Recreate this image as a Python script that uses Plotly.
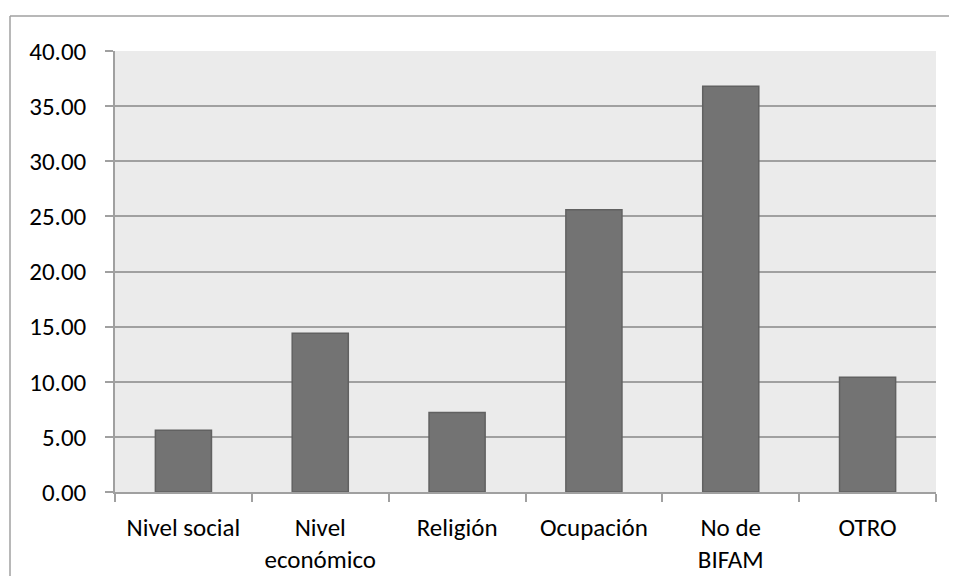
import plotly.graph_objects as go

categories = ["Nivel social", "Nivel<br>económico", "Religión", "Ocupación", "No de<br>BIFAM", "OTRO"]
values = [5.6, 14.4, 7.2, 25.6, 36.8, 10.4]
y_ticks = [0, 5, 10, 15, 20, 25, 30, 35, 40]

OFF = 8  # default page body margin
W, H = 957 - 2 * OFF, 584 - 2 * OFF
L, T = 115 - OFF, 51 - OFF
R = W - (936 - OFF)
B = H - (492 - OFF)
pw = W - L - R
ph = H - T - B

fig = go.Figure()
fig.add_trace(go.Bar(
    x=categories, y=values,
    marker=dict(color="#737373", line=dict(color="#616161", width=1.5)),
    hoverinfo="x+y",
))

font = dict(family="Carlito, Lato, sans-serif", size=25, color="#000000")

bx0 = (10 - OFF - L) / pw
bx1 = (W + 5 - L) / pw
by1 = (T + ph - (16 - OFF)) / ph
by0 = -(H + 5 - T - ph) / ph
border = dict(color="#A0A0A0", width=1.5)

fig.update_layout(
    width=W, height=H,
    margin=dict(l=L, r=R, t=T, b=B),
    paper_bgcolor="white",
    plot_bgcolor="#EBEBEB",
    bargap=0.59,
    showlegend=False,
    font=font,
    xaxis=dict(
        showline=True, linecolor="#A0A0A0", linewidth=1.5,
        ticks="outside", tickson="boundaries", ticklen=8, tickcolor="#A0A0A0", tickwidth=1.5,
        showgrid=False, tickfont=font, ticklabelstandoff=12, automargin=False,
    ),
    yaxis=dict(
        range=[0, 40], tickvals=y_ticks, tickformat=".2f",
        showline=True, linecolor="#A0A0A0", linewidth=1.5,
        ticks="outside", ticklen=8, tickcolor="#A0A0A0", tickwidth=1.5,
        showgrid=True, gridcolor="#A0A0A0", gridwidth=1.5,
        zeroline=False, tickfont=font, ticklabelstandoff=14, automargin=False,
    ),
    shapes=[
        dict(type="line", xref="paper", yref="paper", x0=bx0, x1=bx1, y0=by1, y1=by1,
             line=border, layer="below"),
        dict(type="line", xref="paper", yref="paper", x0=bx0, x1=bx0, y0=by1, y1=by0,
             line=border, layer="below"),
    ],
)

fig.write_html("out.html")
